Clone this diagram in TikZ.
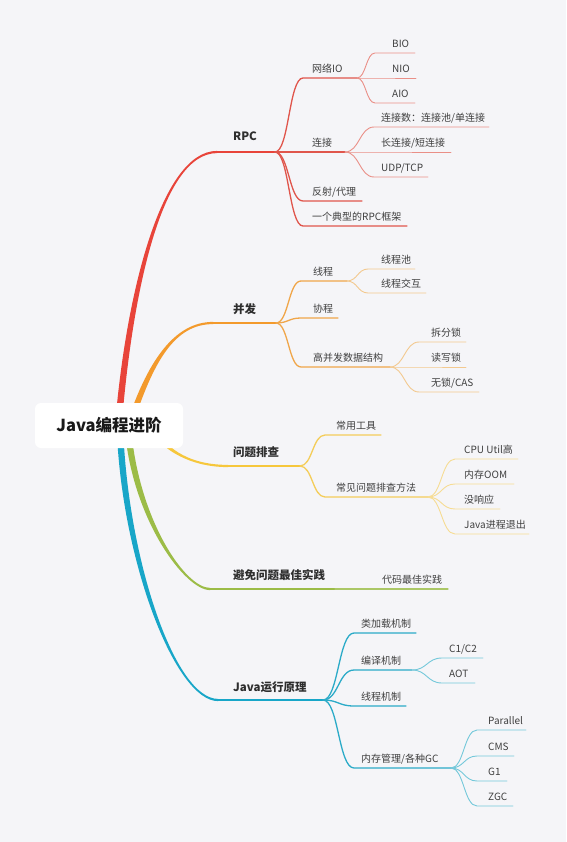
\documentclass[tikz,border=0pt]{standalone}
\usepackage{fontspec}
\setmainfont{Noto Sans CJK SC}
\usetikzlibrary{calc}
\definecolor{bg}{HTML}{F5F5F8}
\definecolor{txt}{HTML}{3F3F3F}
\definecolor{txtmain}{HTML}{2E2E2E}
\definecolor{redM}{HTML}{E8443A}
\definecolor{redA}{HTML}{E0564C}
\definecolor{redB}{HTML}{EA8F87}
\definecolor{orM}{HTML}{F39A2C}
\definecolor{orA}{HTML}{F0A64A}
\definecolor{orB}{HTML}{F3C98F}
\definecolor{yeM}{HTML}{F6C73C}
\definecolor{yeA}{HTML}{F4CD5A}
\definecolor{yeB}{HTML}{F6DC93}
\definecolor{grM}{HTML}{9CBC47}
\definecolor{grA}{HTML}{ABC766}
\definecolor{blM}{HTML}{18A6C8}
\definecolor{blA}{HTML}{2BABC8}
\definecolor{blB}{HTML}{74C8DA}
\tikzset{
  lbl/.style={inner sep=0pt, text=txt, font=\fontsize{10}{12}\selectfont},
  mainlbl/.style={inner sep=0pt, text=txtmain, font=\fontsize{11.5}{14}\selectfont\bfseries},
  rootbox/.style={fill=white, rounded corners=6pt, minimum width=148pt, minimum height=45pt,
    inner sep=0pt, text=black!90, font=\fontsize{16.5}{20}\selectfont\bfseries},
  lvA/.style={line width=1.3pt, line cap=round},
  lvB/.style={line width=0.9pt, line cap=round},
  mainline/.style={line width=2.2pt},
}
% #1 name, #2 parent point, #3 line start x, #4 line end x, #5 y, #6 text x, #7 line style, #8 text
\newcommand\mmtopic[8]{%
  \coordinate (#1s) at (#3,#5);
  \coordinate (#1e) at (#4,#5);
  \coordinate (#1m) at ($(#2)!0.5!(#1s)$);
  \draw[#7] (#2) .. controls (#1m |- #2) and (#1m |- #1s) .. (#1s) -- (#1e);
  \node[lbl, anchor=base west] (#1) at (#6,#5-5.5) {#8};
}
% tapered main branch: #1 colour, #2..#5 points, #6 half width start, #7 half width end, #8 sign
\newcommand\mmbranch[8]{%
  \fill[#1] ($(#2)+(-#6,0)$) .. controls ($(#3)+(-#6,0)$) and ($(#4)+(0,{(#8)*(#7)})$) ..
    ($(#5)+(0,{(#8)*(#7)})$) -- ($(#5)+(0,{-(#8)*(#7)})$) .. controls ($(#4)+(0,{-(#8)*(#7)})$)
    and ($(#3)+(#6,0)$) .. ($(#2)+(#6,0)$) -- cycle;
}
\begin{document}
\begin{tikzpicture}[x=1pt,y=-1pt]
\fill[bg] (0,0) rectangle (566,842);
\useasboundingbox (0,0) rectangle (566,842);

% ---------- RPC ----------
\coordinate (R0) at (118,430); \coordinate (R1) at (128,300);
\coordinate (R2) at (160,152); \coordinate (R3) at (217,152);
\mmbranch{redM}{R0}{R1}{R2}{R3}{3.3}{1.1}{-1}
\coordinate (rpce) at (275,152);
\draw[mainline, redM] (R3) -- (rpce);
\node[mainlbl, anchor=base west] (rpc) at (233,141) {RPC};
\mmtopic{wlio}{rpce}{303}{357}{78}{312}{lvA, redA}{网络IO}
\mmtopic{lj}{rpce}{303}{345}{152}{312}{lvA, redA}{连接}
\mmtopic{fs}{rpce}{303}{362}{201}{312}{lvA, redA}{反射/代理}
\mmtopic{dx}{rpce}{303}{407}{226}{312}{lvA, redA}{一个典型的RPC框架}
\mmtopic{bio}{wlioe}{375}{415}{53}{392}{lvB, redB}{BIO}
\mmtopic{nio}{wlioe}{375}{416}{78}{392}{lvB, redB}{NIO}
\mmtopic{aio}{wlioe}{375}{415}{103}{392}{lvB, redB}{AIO}
\mmtopic{ljs}{lje}{374}{489}{127}{381}{lvB, redB}{连接数：连接池/单连接}
\mmtopic{cdl}{lje}{374}{451}{152}{381}{lvB, redB}{长连接/短连接}
\mmtopic{udp}{lje}{374}{428}{177}{381}{lvB, redB}{UDP/TCP}

% ---------- 并发 ----------
\coordinate (O0) at (128,430); \coordinate (O1) at (150,360);
\coordinate (O2) at (175,323); \coordinate (O3) at (213,323);
\mmbranch{orM}{O0}{O1}{O2}{O3}{3.2}{1.1}{-1}
\coordinate (bfe) at (276,323);
\draw[mainline, orM] (O3) -- (bfe);
\node[mainlbl, anchor=base west] (bf) at (233,313) {并发};
\mmtopic{xc}{bfe}{301}{347}{281}{313}{lvA, orA}{线程}
\mmtopic{xe}{bfe}{301}{338}{318}{313}{lvA, orA}{协程}
\mmtopic{gb}{bfe}{301}{390}{367}{313}{lvA, orA}{高并发数据结构}
\mmtopic{xcc}{xce}{368}{415}{269}{381}{lvB, orB}{线程池}
\mmtopic{xch}{xce}{368}{426}{293}{381}{lvB, orB}{线程交互}
\mmtopic{cf}{gbe}{419}{466}{342}{431}{lvB, orB}{拆分锁}
\mmtopic{dxs}{gbe}{419}{466}{367}{431}{lvB, orB}{读写锁}
\mmtopic{ws}{gbe}{419}{479}{392}{431}{lvB, orB}{无锁/CAS}

% ---------- 问题排查 ----------
\coordinate (Y0) at (150,425); \coordinate (Y1) at (160,445);
\coordinate (Y2) at (185,466); \coordinate (Y3) at (228,466);
\mmbranch{yeM}{Y0}{Y1}{Y2}{Y3}{3.2}{1.1}{1}
\coordinate (wte) at (300,466);
\draw[mainline, yeM] (Y3) -- (wte);
\node[mainlbl, anchor=base west] (wt) at (233,456) {问题排查};
\mmtopic{cy}{wte}{325}{381}{435}{336}{lvA, yeA}{常用工具}
\mmtopic{cj}{wte}{325}{428}{497}{336}{lvA, yeA}{常见问题排查方法}
\mmtopic{cpu}{cje}{455}{518}{459}{464}{lvB, yeB}{CPU Util高}
\mmtopic{oom}{cje}{455}{514}{484}{464}{lvB, yeB}{内存OOM}
\mmtopic{mxy}{cje}{455}{500}{509}{464}{lvB, yeB}{没响应}
\mmtopic{jtc}{cje}{455}{529}{534}{464}{lvB, yeB}{Java进程退出}

% ---------- 避免问题最佳实践 ----------
\coordinate (G0) at (128,430); \coordinate (G1) at (136,520);
\coordinate (G2) at (185,589); \coordinate (G3) at (210,589);
\mmbranch{grM}{G0}{G1}{G2}{G3}{3.2}{1.1}{1}
\coordinate (bme) at (335,589);
\draw[mainline, grM] (G3) -- (bme);
\node[mainlbl, anchor=base west] (bm) at (233,579) {避免问题最佳实践};
\mmtopic{dm}{bme}{345}{448}{589}{382}{lvA, grA}{代码最佳实践}

% ---------- Java运行原理 ----------
\coordinate (B0) at (120,430); \coordinate (B1) at (125,560);
\coordinate (B2) at (175,700); \coordinate (B3) at (218,700);
\mmbranch{blM}{B0}{B1}{B2}{B3}{3.2}{1.1}{1}
\coordinate (jye) at (323,700);
\draw[mainline, blM] (B3) -- (jye);
\node[mainlbl, anchor=base west] (jy) at (233,691) {Java运行原理};
\mmtopic{ljz}{jye}{354}{416}{633}{361}{lvA, blA}{类加载机制}
\mmtopic{by}{jye}{354}{412}{670}{361}{lvA, blA}{编译机制}
\mmtopic{xj}{jye}{354}{406}{706}{361}{lvA, blA}{线程机制}
\mmtopic{nc}{jye}{354}{451}{768}{361}{lvA, blA}{内存管理/各种GC}
\mmtopic{c12}{bye}{442}{483}{658}{449}{lvB, blB}{C1/C2}
\mmtopic{aot}{bye}{442}{475}{683}{449}{lvB, blB}{AOT}
\mmtopic{par}{nce}{477}{526}{730}{488}{lvB, blB}{Parallel}
\mmtopic{cms}{nce}{477}{514}{756}{488}{lvB, blB}{CMS}
\mmtopic{g1}{nce}{477}{507}{781}{488}{lvB, blB}{G1}
\mmtopic{zgc}{nce}{477}{513}{806}{488}{lvB, blB}{ZGC}

% ---------- root ----------
\node[rootbox] (root) at (109,425.5) {Java编程进阶};
\end{tikzpicture}
\end{document}
